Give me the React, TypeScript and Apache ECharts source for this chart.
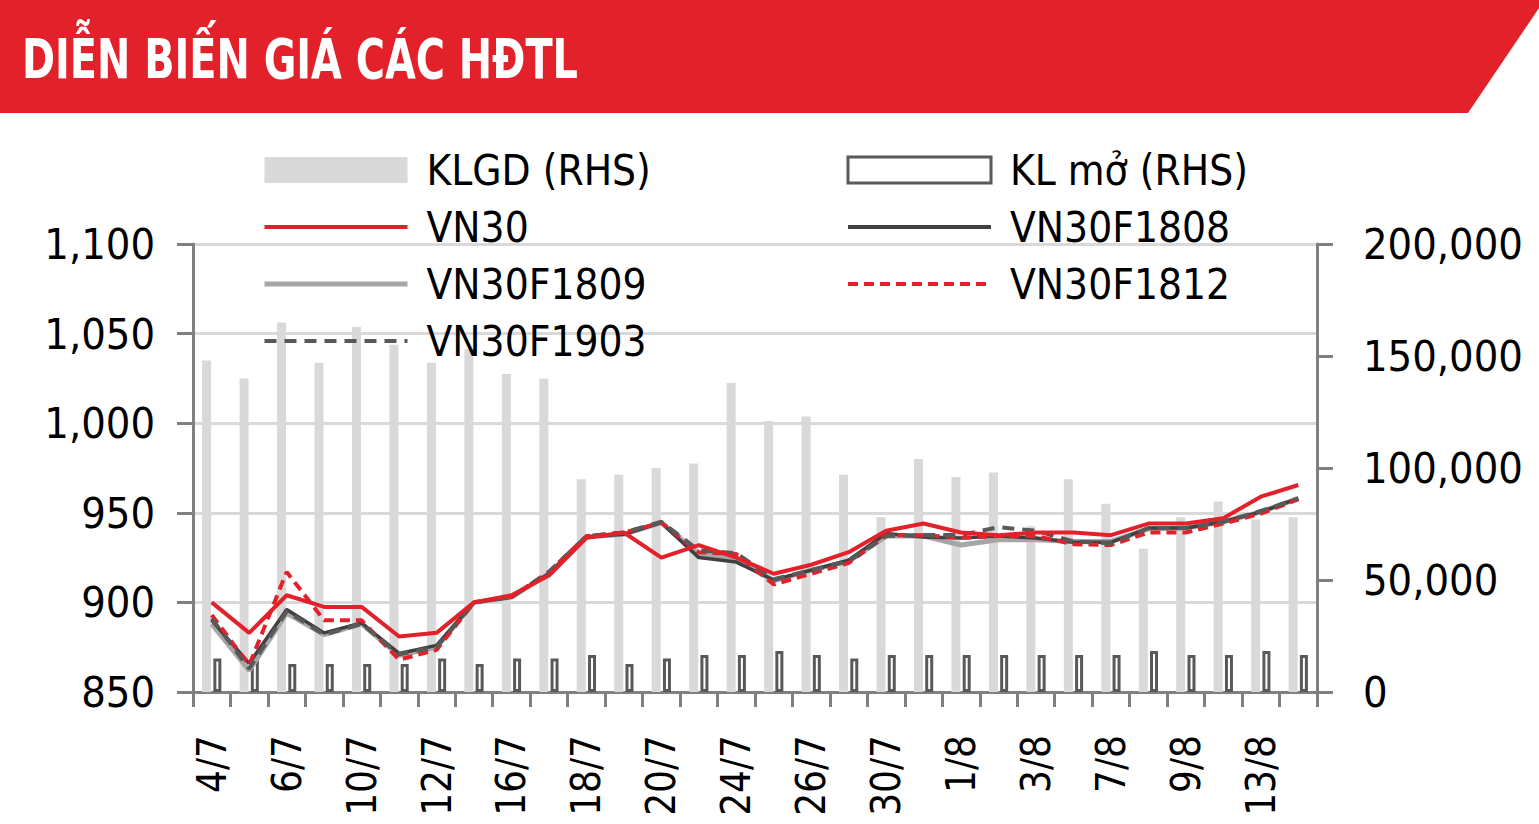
import React, { useEffect, useRef } from "react";
import * as echarts from "echarts";

const categories = ["4/7","5/7","6/7","9/7","10/7","11/7","12/7","13/7","16/7","17/7","18/7","19/7","20/7","23/7","24/7","25/7","26/7","27/7","30/7","31/7","1/8","2/8","3/8","6/8","7/8","8/8","9/8","10/8","13/8","14/8"];

const klgd = [148000,140000,165000,147000,163000,155000,147000,153000,142000,140000,95000,97000,100000,102000,138000,121000,123000,97000,78000,104000,96000,98000,74000,95000,84000,64000,78000,85000,77000,78000];
const klMo = [15000,15000,12500,12500,12500,12500,15000,12500,15000,15000,16500,12500,15000,16500,16500,18300,16500,15000,16500,16500,16500,16500,16500,16500,16500,18300,16500,16500,18300,16500];

const vn30 = [900,883,904,897.5,897.5,881,883,900,904,915,936,939,925,932,925,916,921,928,940,944,939,937.5,939,939,937.5,944,944,947,959,965.5];
const f1808 = [890,866,896,883,888.5,871.5,876,900,903,916,936.5,938,944.5,925,922.5,912.5,918,923.5,938.5,936.5,936,937,936,933.5,933.5,941.5,941.5,945,950.5,958];
const f1809 = [888,862,894,882,888,870.5,875,900,903,916,936.5,938,944.5,927,924,912,918,923,937,937,932,935,935,934,934,941,941.5,945,950.5,958];
const f1812 = [893,865,917,890,890,868,873.5,900,903,917,937,939,944.5,928,927,910,916,922,937.5,937.5,936,937,937,932.5,932,939,939,944,949.5,957.5];
const f1903 = [891,863,895,882,888,871,875,900,903,917,937,939,945,929,927.5,913,918,923,937,937.6,937.6,942,940,934,933,941.5,941.5,945,951,958];

const leftTicks = { min: 850, max: 1100, interval: 50 };
const rightTicks = { min: 0, max: 200000, interval: 50000 };

const FONT = "'Liberation Sans Narrow', 'DejaVu Sans Condensed', 'Arial Narrow', 'Liberation Sans', sans-serif";

function fmt(v: number) {
  return v.toLocaleString("en-US");
}

const noSymbol = { opacity: 0, color: "transparent", borderWidth: 0 };

export default function App() {
  const ref = useRef<HTMLDivElement>(null);
  useEffect(() => {
    document.body.style.margin = "0";
    const chart = echarts.init(ref.current!, null, { renderer: "svg" });
    const axisGray = "#808080";
    const legendText = { fontSize: 42, color: "#000", fontFamily: FONT, padding: [0, 0, 0, 14] };
    const option: any = {
      animation: false,
      backgroundColor: "#ffffff",
      textStyle: { fontFamily: FONT },
      graphic: [
        {
          type: "polygon",
          shape: { points: [[0, 0], [1539, 0], [1539, 8], [1468, 113], [0, 113]] },
          style: { fill: "#e3212b" },
          z: 0,
        },
        {
          type: "text",
          x: 22,
          y: 59,
          scaleX: 0.79,
          style: {
            text: "DIỄN BIẾN GIÁ CÁC HĐTL",
            fill: "#ffffff",
            font: "bold 56px " + FONT,
            verticalAlign: "middle",
            align: "left",
          },
          z: 1,
        },
      ],
      legend: [
        {
          orient: "vertical",
          left: 257,
          top: 144,
          itemWidth: 143,
          itemHeight: 26,
          itemGap: 15,
          data: [
            { name: "KLGD (RHS)", icon: "rect" },
            { name: "VN30", itemStyle: noSymbol, lineStyle: { width: 4 } },
            { name: "VN30F1809", itemStyle: noSymbol, lineStyle: { width: 5 } },
            { name: "VN30F1903", itemStyle: noSymbol, lineStyle: { width: 4, type: [12, 8] } },
          ],
          textStyle: legendText,
        },
        {
          orient: "vertical",
          left: 841,
          top: 144,
          itemWidth: 143,
          itemHeight: 26,
          itemGap: 15,
          data: [
            { name: "KL mở (RHS)", icon: "rect", itemStyle: { borderWidth: 3, borderColor: "#595959", color: "#ffffff" } },
            { name: "VN30F1808", itemStyle: noSymbol, lineStyle: { width: 4 } },
            { name: "VN30F1812", itemStyle: noSymbol, lineStyle: { width: 4, type: [10, 6] } },
          ],
          textStyle: legendText,
        },
      ],
      grid: { left: 193, right: 222, top: 244, bottom: 132, containLabel: false },
      xAxis: {
        type: "category",
        data: categories,
        boundaryGap: true,
        axisLine: { show: true, lineStyle: { color: axisGray, width: 3 } },
        axisTick: { show: true, interval: 0, length: 15, lineStyle: { color: axisGray, width: 3 } },
        axisLabel: {
          interval: 1,
          rotate: 90,
          margin: 43,
          fontSize: 40,
          color: "#000",
          fontFamily: FONT,
        },
        splitLine: { show: false },
      },
      yAxis: [
        {
          type: "value",
          min: leftTicks.min,
          max: leftTicks.max,
          interval: leftTicks.interval,
          position: "left",
          axisLine: { show: true, lineStyle: { color: axisGray, width: 3 } },
          axisTick: { show: true, length: 16, lineStyle: { color: axisGray, width: 3 } },
          axisLabel: { margin: 38, fontSize: 43, color: "#000", fontFamily: FONT, formatter: (v: number) => fmt(v) },
          splitLine: { show: true, lineStyle: { color: "#d9d9d9", width: 3 } },
        },
        {
          type: "value",
          min: rightTicks.min,
          max: rightTicks.max,
          interval: rightTicks.interval,
          position: "right",
          axisLine: { show: true, lineStyle: { color: axisGray, width: 3 } },
          axisTick: { show: true, length: 16, lineStyle: { color: axisGray, width: 3 } },
          axisLabel: { margin: 46, fontSize: 43, color: "#000", fontFamily: FONT, formatter: (v: number) => fmt(v) },
          splitLine: { show: false },
        },
      ],
      series: [
        {
          name: "KLGD (RHS)",
          type: "bar",
          yAxisIndex: 1,
          data: klgd,
          barWidth: 9,
          barGap: "25%",
          itemStyle: { color: "#d9d9d9" },
          z: 1,
        },
        {
          name: "KL mở (RHS)",
          type: "bar",
          yAxisIndex: 1,
          data: klMo,
          barWidth: 8,
          itemStyle: { color: "#ffffff", borderColor: "#595959", borderWidth: 3 },
          z: 1,
        },
        {
          name: "VN30F1809",
          type: "line",
          data: f1809,
          symbol: "none",
          lineStyle: { color: "#a6a6a6", width: 5 },
          itemStyle: { color: "#a6a6a6" },
          z: 3,
        },
        {
          name: "VN30F1808",
          type: "line",
          data: f1808,
          symbol: "none",
          lineStyle: { color: "#404040", width: 3.5 },
          itemStyle: { color: "#404040" },
          z: 4,
        },
        {
          name: "VN30F1812",
          type: "line",
          data: f1812,
          symbol: "none",
          lineStyle: { color: "#e3212b", width: 4, type: [10, 6] },
          itemStyle: { color: "#e3212b" },
          z: 5,
        },
        {
          name: "VN30F1903",
          type: "line",
          data: f1903,
          symbol: "none",
          lineStyle: { color: "#595959", width: 4, type: [12, 8] },
          itemStyle: { color: "#595959" },
          z: 6,
        },
        {
          name: "VN30",
          type: "line",
          data: vn30,
          symbol: "none",
          lineStyle: { color: "#e3212b", width: 4 },
          itemStyle: { color: "#e3212b" },
          z: 7,
        },
      ],
    };
    chart.setOption(option);
    return () => chart.dispose();
  }, []);
  return (
    <div
      ref={ref}
      style={{ position: "absolute", left: 0, top: 0, width: 1539, height: 824 }}
    />
  );
}
